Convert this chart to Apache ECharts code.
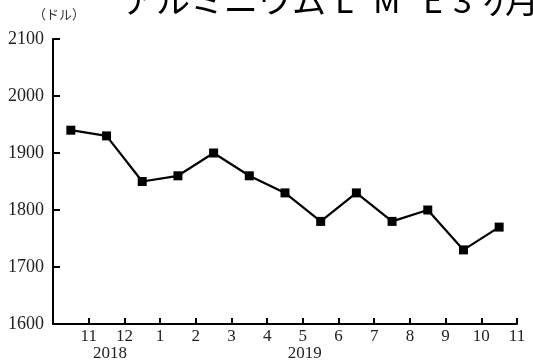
<!DOCTYPE html>
<html>
<head>
<meta charset="utf-8">
<script src="https://cdn.jsdelivr.net/npm/echarts@6/dist/echarts.min.js"></script>
<style>
  html, body { margin: 0; padding: 0; background: #fff; }
  #chart { width: 533px; height: 360px; }
</style>
</head>
<body>
<div id="chart"></div>
<script>
// 2018/10 〜 2019/10 の月次 (ドル/トン)
const months = ['10', '11', '12', '1', '2', '3', '4', '5', '6', '7', '8', '9', '10'];
const prices = [1940, 1930, 1850, 1860, 1900, 1860, 1830, 1780, 1830, 1780, 1800, 1730, 1770];
// 月の境目に付ける目盛ラベル
const tickLabels = ['', '11', '12', '1', '2', '3', '4', '5', '6', '7', '8', '9', '10', '11'];
const years = [{ text: '2018', at: 1.6 }, { text: '2019', at: 7.05 }];

const serif = '"Liberation Serif", "DejaVu Serif", serif';
const jp = '"Noto Sans CJK JP", sans-serif';
const chart = echarts.init(document.getElementById('chart'));

// 点は各月の中央に置く
const points = prices.map((v, i) => [i + 0.5, v]);

// タイトル (上が切れている)
const titleParts = [
  { t: 'アルミニウム', x: 122 },
  { t: 'L', x: 335 },
  { t: 'M', x: 373 },
  { t: 'E', x: 423 },
  { t: '3', x: 453 },
  { t: 'ヶ', x: 480 },
  { t: '月', x: 505 }
];

const option = {
  animation: false,
  backgroundColor: '#fff',
  grid: { left: 53, right: 16, top: 39, bottom: 36 },
  xAxis: {
    type: 'value',
    min: 0,
    max: months.length,
    interval: 1,
    splitLine: { show: false },
    axisLine: { lineStyle: { color: '#000', width: 2 } },
    axisTick: { inside: true, length: 6, lineStyle: { color: '#000', width: 2 } },
    axisLabel: {
      color: '#222',
      fontFamily: serif,
      fontSize: 17,
      margin: 4,
      showMinLabel: true,
      showMaxLabel: true,
      formatter: v => tickLabels[Math.round(v)] || ''
    }
  },
  yAxis: {
    type: 'value',
    min: 1600,
    max: 2100,
    interval: 100,
    splitLine: { show: false },
    axisLine: { show: true, lineStyle: { color: '#000', width: 2 } },
    axisTick: { show: true, inside: true, length: 7, lineStyle: { color: '#000', width: 2 } },
    axisLabel: { color: '#222', fontFamily: serif, fontSize: 18, margin: 9, formatter: v => String(v) }
  },
  series: [{
    type: 'line',
    data: points,
    symbol: 'rect',
    symbolSize: 9,
    itemStyle: { color: '#000' },
    lineStyle: { color: '#000', width: 2.2 }
  }],
  graphic: [
    {
      type: 'text',
      x: 33, y: 8,
      style: { text: '（ドル）', fill: '#333', fontFamily: jp, fontSize: 13 }
    }
  ].concat(titleParts.map(p => ({
    type: 'text',
    x: p.x, y: -17,
    style: { text: p.t, fill: '#000', fontFamily: jp, fontSize: 34 }
  })))
};

chart.setOption(option);

// 年のラベル (目盛の位置から計算)
const g = option.graphic.slice();
years.forEach(y => {
  const px = chart.convertToPixel({ xAxisIndex: 0 }, y.at);
  g.push({
    type: 'text',
    x: px, y: 345,
    style: { text: y.text, fill: '#222', fontFamily: serif, fontSize: 17, align: 'center' }
  });
});
chart.setOption({ graphic: g });
</script>
</body>
</html>
